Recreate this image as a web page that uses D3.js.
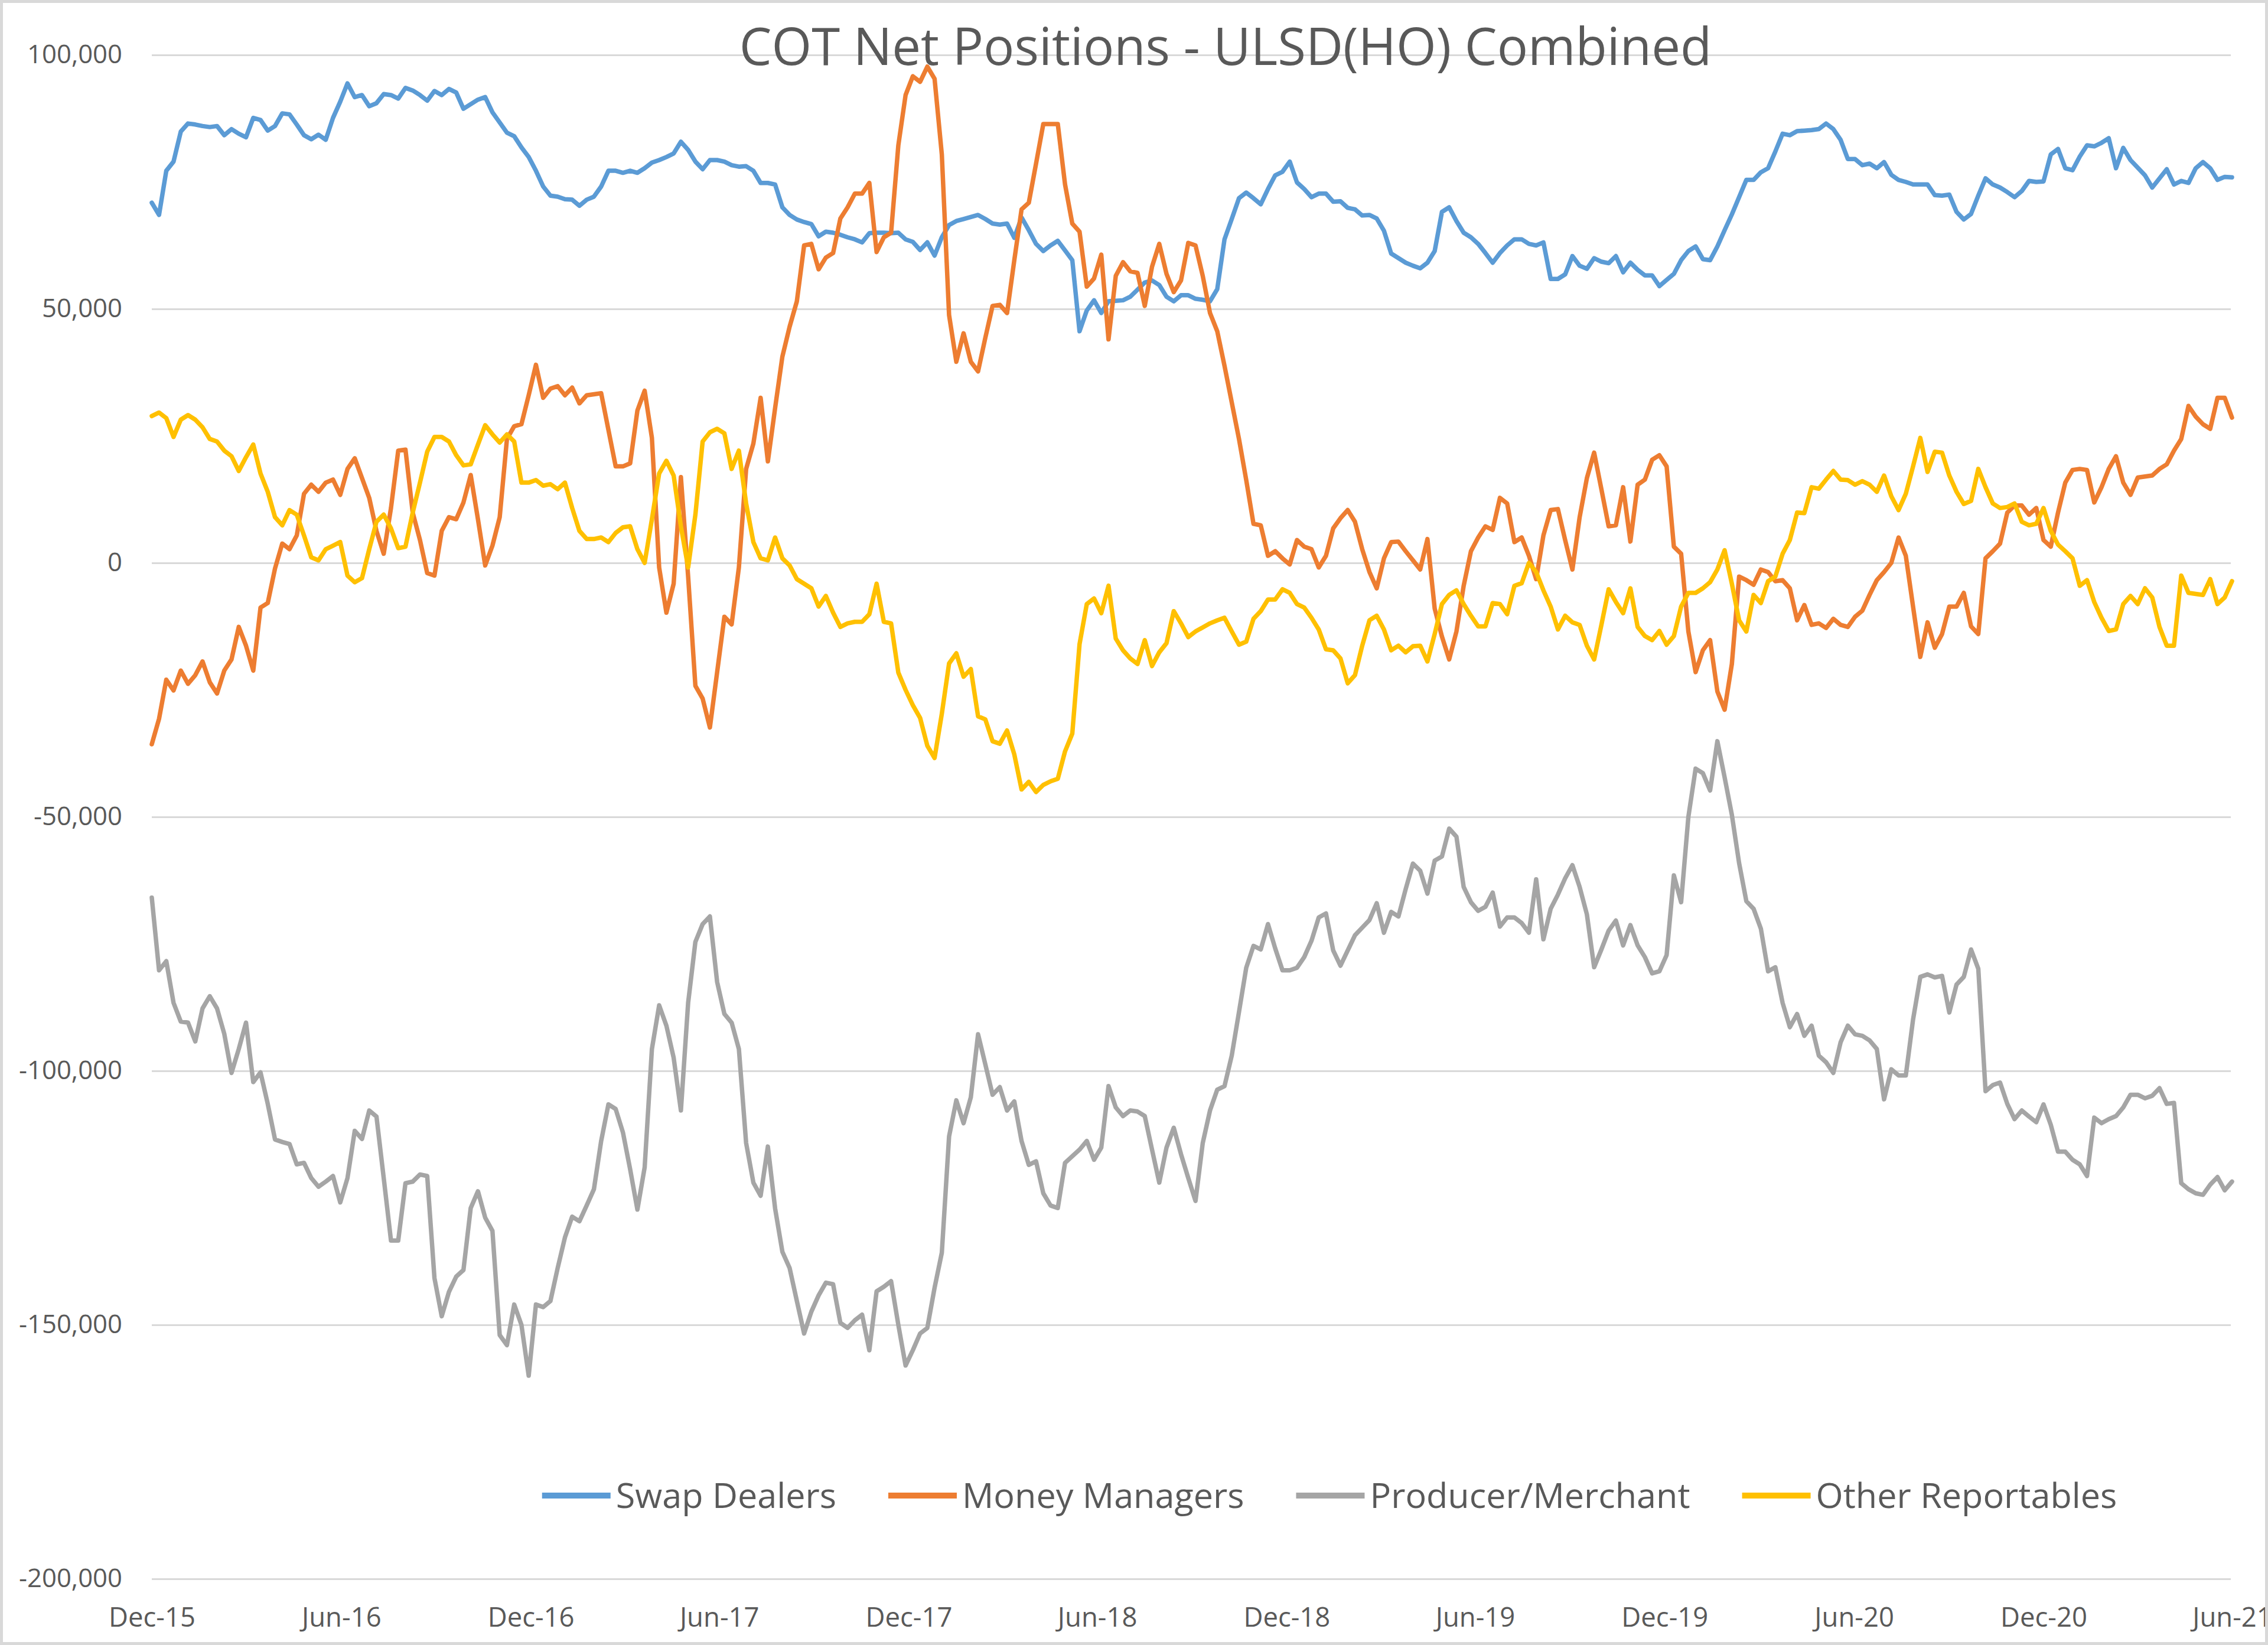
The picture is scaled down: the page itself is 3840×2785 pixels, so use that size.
<!DOCTYPE html>
<html><head><meta charset="utf-8">
<script src="https://cdn.jsdelivr.net/npm/d3@7"></script>
<style>html,body{margin:0;padding:0;background:#fff;} svg{display:block;}</style>
</head><body>
<svg id="chart" width="3840" height="2785"></svg>
<script>
const chartTitle = "COT Net Positions - ULSD(HO) Combined";
const seriesNames = ["Swap Dealers", "Money Managers", "Producer/Merchant", "Other Reportables"];
const seriesColors = ["#5B9BD5", "#ED7D31", "#A5A5A5", "#FFC000"];
const firstWeek = "2015-12-01";   // weekly COT report dates
const weekCount = 288;

const swapDealers = [
70900,68500,77200,79000,84900,86500,86300,86000,85800,86000,
84200,85400,84500,83800,87600,87200,85100,86000,88500,88300,
86300,84200,83400,84300,83300,87600,90800,94400,91700,92100,
89900,90500,92300,92100,91400,93500,93000,92100,91000,92900,
92100,93300,92600,89400,90300,91200,91700,88700,86700,84700,
84000,81800,79900,77200,74100,72300,72100,71600,71500,70300,
71500,72100,74100,77200,77200,76800,77200,76800,77700,78800,
79300,79900,80600,82900,81300,79000,77500,79300,79300,79000,
78300,78000,78100,77200,74800,74800,74500,70000,68500,67600,
67100,66700,64300,65200,65000,64600,64100,63700,63100,64900,
65000,65000,64900,65000,63700,63200,61600,63100,60500,64100,
66500,67300,67700,68100,68500,67700,66800,66600,66800,64000,
68000,65500,62800,61400,62500,63400,61500,59600,45600,49700,
51700,49200,51500,51600,51700,52400,53800,55200,55600,54700,
52400,51500,52700,52700,52000,51800,51500,53900,63700,67700,
71800,72900,71800,70600,73600,76300,77000,79000,74900,73600,
72000,72700,72700,71100,71200,69900,69600,68400,68500,67800,
65400,60900,60000,59100,58500,58000,59100,61400,69100,70000,
67300,65000,64100,62800,61000,59100,61000,62500,63700,63700,
62800,62500,63100,55900,55900,56800,60400,58500,57900,60000,
59300,59000,60400,57200,59100,57700,56600,56600,54500,55700,
56900,59600,61400,62300,59800,59600,62300,65500,68600,72000,
75400,75400,76900,77700,81000,84500,84200,85000,85100,85200,
85400,86500,85400,83300,79500,79500,78300,78600,77700,78900,
76400,75400,75000,74500,74500,74500,72400,72300,72500,69100,
67600,68700,72300,75700,74500,73900,73000,72000,73200,75200,
75000,75100,80400,81500,77700,77300,80000,82200,82000,82700,
83600,77700,81700,79300,77800,76300,73900,75700,77500,74500,
75200,74800,77700,78900,77700,75400,76000,75900];

const moneyManagers = [
-35700,-30700,-23000,-25100,-21200,-23800,-22100,-19400,-23500,-25700,
-21200,-19000,-12600,-16300,-21200,-8800,-7900,-1100,3800,2700,
5400,13600,15400,14000,15800,16400,13400,18500,20600,16700,
12800,6300,1800,10800,22100,22300,9900,4500,-2000,-2500,
6300,9000,8600,11900,17300,8600,-500,3400,9000,24400,
26900,27300,33000,39000,32500,34300,34800,33000,34500,31400,
33000,33200,33400,26200,19000,19000,19600,30000,33900,24600,
-900,-9800,-4100,16900,-2700,-24200,-26700,-32400,-21500,-10600,
-12100,-900,18500,23500,32500,20000,30500,40600,46500,51500,
62500,62800,57800,60100,61000,67800,70000,72700,72700,74800,
61200,64100,65000,82200,92100,95800,94700,97700,95300,80400,
48800,39600,45200,39600,37700,44300,50600,50800,49200,59600,
69600,70900,78600,86400,86400,86400,74500,66800,65200,54400,
56000,60700,44000,56500,59200,57400,57100,50600,58300,62800,
56900,53300,55600,63000,62500,56500,49200,45600,38800,31600,
24400,16300,7700,7400,1400,2300,900,-300,4500,3200,
2700,-900,1400,6800,8800,10400,8100,2700,-1800,-5000,
900,4100,4200,2300,500,-1300,4700,-9000,-14500,-19000,
-13500,-4500,2300,5000,7200,6500,12800,11700,4100,5000,
1400,-3200,5400,10400,10600,4500,-1300,9000,16700,21700,
14500,7200,7400,14900,4200,15400,16400,20300,21200,19000,
3200,1800,-13500,-21500,-17200,-15200,-25300,-28900,-19900,-2700,
-3400,-4300,-1300,-1800,-3600,-3400,-5000,-11300,-8300,-12200,
-11900,-12800,-11000,-12200,-12600,-10600,-9400,-6300,-3400,-1800,
0,5000,1400,-8600,-18500,-11700,-16700,-14000,-8600,-8600,
-5900,-12500,-14000,900,2300,3800,9900,11300,11300,9500,
10800,4500,3200,9900,15800,18300,18500,18300,11900,14900,
18500,21000,15800,13400,16800,17000,17200,18500,19400,22100,
24400,30900,28800,27300,26400,32500,32500,28600];

const producerMerchant = [
-65900,-80200,-78400,-86600,-90300,-90500,-94200,-87700,-85300,-87700,
-92700,-100400,-95700,-90500,-102200,-100300,-106500,-113500,-114000,-114400,
-118400,-118100,-121100,-122800,-121800,-120700,-125900,-121100,-111800,-113400,
-107800,-109000,-121100,-133400,-133400,-122100,-121800,-120400,-120700,-140800,
-148300,-143500,-140500,-139200,-127000,-123700,-128900,-131500,-152000,-154000,
-146000,-150000,-160000,-146000,-146500,-145300,-138800,-132800,-128700,-129600,
-126500,-123300,-113800,-106600,-107500,-112100,-119400,-127300,-119000,-95700,
-87100,-91100,-97400,-107800,-86600,-74600,-71100,-69600,-82500,-88800,
-90500,-95700,-114200,-122000,-124600,-114900,-127100,-135600,-138800,-145300,
-151700,-147400,-144200,-141700,-142000,-149600,-150600,-149100,-148000,-155000,
-143400,-142500,-141400,-150000,-158000,-155000,-151700,-150600,-142700,-135800,
-112900,-105800,-110300,-105200,-92800,-98700,-104700,-103200,-107800,-106000,
-113800,-118500,-117800,-124100,-126500,-127000,-118100,-116800,-115500,-113800,
-117500,-115100,-103000,-107200,-108900,-107800,-108000,-108900,-115500,-122000,
-115100,-111200,-116400,-121100,-125600,-114200,-107800,-103700,-103000,-97000,
-88400,-79700,-75400,-76100,-71100,-75900,-80200,-80200,-79700,-77600,
-74400,-69800,-69000,-76300,-79300,-76300,-73300,-71800,-70300,-67000,
-72800,-68700,-69600,-64200,-59200,-60600,-65100,-58600,-57800,-52300,
-53900,-63800,-66800,-68500,-67700,-64900,-71600,-69800,-69800,-70900,
-72800,-62300,-74100,-68100,-65300,-62100,-59500,-63800,-69200,-79600,
-76100,-72400,-70400,-75300,-71300,-75300,-77600,-80800,-80400,-77200,
-61500,-66800,-50000,-40500,-41400,-44800,-35100,-42200,-49600,-59100,
-66600,-68100,-72000,-80400,-79600,-86600,-91400,-88800,-93100,-91100,
-97000,-98300,-100400,-94400,-91100,-92800,-93100,-94000,-95700,-105600,
-99700,-100900,-100900,-89900,-81500,-81000,-81600,-81300,-88500,-83000,
-81500,-76100,-79900,-104000,-102800,-102300,-106500,-109500,-107800,-109000,
-110100,-106600,-110600,-115900,-115900,-117500,-118400,-120700,-109200,-110300,
-109500,-108900,-107200,-104700,-104700,-105400,-104900,-103400,-106500,-106300,
-122100,-123300,-124100,-124400,-122400,-120900,-123500,-121800];

const otherReportables = [
28900,29600,28500,24800,28200,29100,28200,26700,24400,23900,
22100,21000,18100,20800,23300,17600,14000,9000,7400,10400,
9500,5400,1100,500,2700,3400,4100,-2500,-3800,-3000,
2700,8100,9500,6800,2900,3200,9900,15800,21900,24800,
24800,23900,21200,19200,19400,23300,27100,25300,23700,25300,
23900,15800,15800,16300,15200,15500,14500,15800,10800,6300,
4700,4700,5000,4100,5900,7000,7200,2700,0,8600,
17600,20100,17200,7200,-900,9500,23900,25700,26400,25500,
18500,22100,11700,4100,900,500,5000,900,-500,-3200,
-4100,-5000,-8600,-6500,-9800,-12600,-11900,-11600,-11600,-10100,
-4100,-11600,-11900,-21600,-25000,-28000,-30500,-36000,-38400,-29700,
-19800,-17800,-22400,-20900,-30200,-30800,-35100,-35600,-33000,-37700,
-44600,-43100,-45100,-43700,-43000,-42500,-37100,-33600,-16000,-8100,
-7000,-9900,-4500,-14900,-17200,-18800,-19900,-15200,-20300,-17600,
-15800,-9500,-11900,-14600,-13500,-12700,-11900,-11300,-10800,-13500,
-16100,-15500,-11000,-9500,-7200,-7200,-5200,-5900,-8100,-8800,
-10800,-13100,-17000,-17200,-18800,-23700,-22100,-16300,-11300,-10400,
-13100,-17200,-16300,-17600,-16400,-16300,-19400,-14000,-8100,-6300,
-5400,-8100,-10400,-12500,-12500,-7900,-8100,-10100,-4500,-4000,
0,-1800,-5400,-8600,-13100,-10400,-11700,-12200,-16300,-19000,
-12200,-5200,-7700,-9900,-5000,-12600,-14400,-15200,-13400,-16100,
-14400,-8600,-5900,-5900,-5000,-3800,-1300,2500,-4100,-11300,
-13500,-6300,-7900,-3600,-2700,1800,4500,9900,9800,14900,
14600,16400,18100,16400,16300,15400,16100,15400,14000,17200,
13100,10400,13600,19000,24600,17900,21900,21700,17200,14000,
11600,12200,18500,14900,11700,10800,11000,11700,8100,7400,
7700,10800,6300,3600,2300,900,-4500,-3400,-7700,-10800,
-13400,-13100,-8100,-6500,-8100,-5000,-6800,-12600,-16300,-16300,
-2500,-5900,-6100,-6300,-3200,-8100,-6800,-3600];

const xTickDates = ["2015-12-01","2016-06-01","2016-12-01","2017-06-01","2017-12-01","2018-06-01",
                    "2018-12-01","2019-06-01","2019-12-01","2020-06-01","2020-12-01","2021-06-01"];
const xTickLabels = ["Dec-15","Jun-16","Dec-16","Jun-17","Dec-17","Jun-18",
                     "Dec-18","Jun-19","Dec-19","Jun-20","Dec-20","Jun-21"];
const yTickValues = [100000, 50000, 0, -50000, -100000, -150000, -200000];
const yTickLabels = ["100,000", "50,000", "0", "-50,000", "-100,000", "-150,000", "-200,000"];

const allSeries = [swapDealers, moneyManagers, producerMerchant, otherReportables];

// ---------------- layout ----------------
const W = 3840, H = 2785;
const FONT = "'Open Sans', 'Noto Sans', 'DejaVu Sans', sans-serif";
const TEXT = "#595959";
const plot = {left: 257, right: 3779, top: 93, bottom: 2673, gridRight: 3777};

const svg = d3.select("#chart");
svg.append("rect").attr("width", W).attr("height", H).attr("fill", "#fff");

const parse = d3.utcParse("%Y-%m-%d");
const start = parse(firstWeek);
const dates = d3.range(weekCount).map(i => d3.utcDay.offset(start, 7 * i));
const tickDates = xTickDates.map(parse);

const x = d3.scaleUtc().domain([tickDates[0], tickDates[tickDates.length - 1]]).range([plot.left, plot.right]);
const y = d3.scaleLinear().domain([-200000, 100000]).range([plot.bottom, plot.top]);

function fitSize(textSel, targetWidth, probe) {
  textSel.attr("font-size", 100);
  const w = probe.getComputedTextLength();
  return 100 * targetWidth / w;
}

// gridlines
const grid = svg.append("g").attr("transform", `translate(${plot.left},0)`)
  .call(d3.axisLeft(y).tickValues(yTickValues).tickSize(-(plot.gridRight - plot.left)).tickFormat(""));
grid.select(".domain").remove();
grid.selectAll(".tick line").attr("stroke", "#d9d9d9").attr("stroke-width", 3);

// y axis labels
const yAxis = svg.append("g").attr("transform", `translate(${plot.left},0)`)
  .call(d3.axisLeft(y).tickValues(yTickValues).tickSize(0).tickPadding(50)
        .tickFormat((d, i) => yTickLabels[i]));
yAxis.select(".domain").remove();
const yTexts = yAxis.selectAll("text").attr("font-family", FONT).attr("fill", TEXT);
const ySize = fitSize(yTexts, 161, yTexts.nodes()[0]);
yTexts.attr("font-size", ySize);

// x axis labels
const xAxis = svg.append("g").attr("transform", `translate(0,${plot.bottom})`)
  .call(d3.axisBottom(x).tickValues(tickDates).tickSize(0).tickPadding(49)
        .tickFormat((d, i) => xTickLabels[i]));
xAxis.select(".domain").remove();
const xTexts = xAxis.selectAll("text").attr("font-family", FONT).attr("fill", TEXT);
const xSize = fitSize(xTexts, 147, xTexts.nodes()[0]);
xTexts.attr("font-size", xSize);

// series lines
const line = d3.line().x((d, i) => x(dates[i])).y(d => y(d));
svg.append("g").selectAll("path").data(allSeries).join("path")
  .attr("d", line)
  .attr("fill", "none")
  .attr("stroke", (d, i) => seriesColors[i])
  .attr("stroke-width", 7.5)
  .attr("stroke-linejoin", "round")
  .attr("stroke-linecap", "round");

// title
const titleText = svg.append("text").text(chartTitle)
  .attr("font-family", FONT).attr("fill", TEXT).attr("text-anchor", "middle")
  .attr("x", 2075).attr("y", 110);
titleText.attr("font-size", fitSize(titleText, 1647, titleText.node()));

// legend
const legend = svg.append("g");
const items = legend.selectAll("g").data(seriesNames).join("g");
const legendTexts = items.append("text").text(d => d)
  .attr("font-family", FONT).attr("fill", TEXT).attr("dy", "0.35em");
legendTexts.attr("font-size", 100);
const rawTotal = d3.sum(legendTexts.nodes(), n => n.getComputedTextLength());
const legendSize = 100 * 1903 / rawTotal;
legendTexts.attr("font-size", legendSize);
const symLen = 116, symGap = 9, itemGap = 88, legendY = 2532;
const widths = legendTexts.nodes().map(n => n.getComputedTextLength());
const totalW = d3.sum(widths) + seriesNames.length * (symLen + symGap) + (seriesNames.length - 1) * itemGap;
let cx = 2251 - totalW / 2;
items.each(function(d, i) {
  const g = d3.select(this).attr("transform", `translate(${cx},${legendY})`);
  g.insert("line", "text").attr("x1", 0).attr("x2", symLen).attr("y1", 0).attr("y2", 0)
    .attr("stroke", seriesColors[i]).attr("stroke-width", 10);
  g.select("text").attr("x", symLen + symGap);
  cx += symLen + symGap + widths[i] + itemGap;
});

// outer chart border (drawn last, like the reference frame)
svg.append("rect").attr("x", 2.5).attr("y", 2.5).attr("width", W - 5).attr("height", H - 5)
   .attr("fill", "none").attr("stroke", "#d9d9d9").attr("stroke-width", 5);
</script>
</body></html>
